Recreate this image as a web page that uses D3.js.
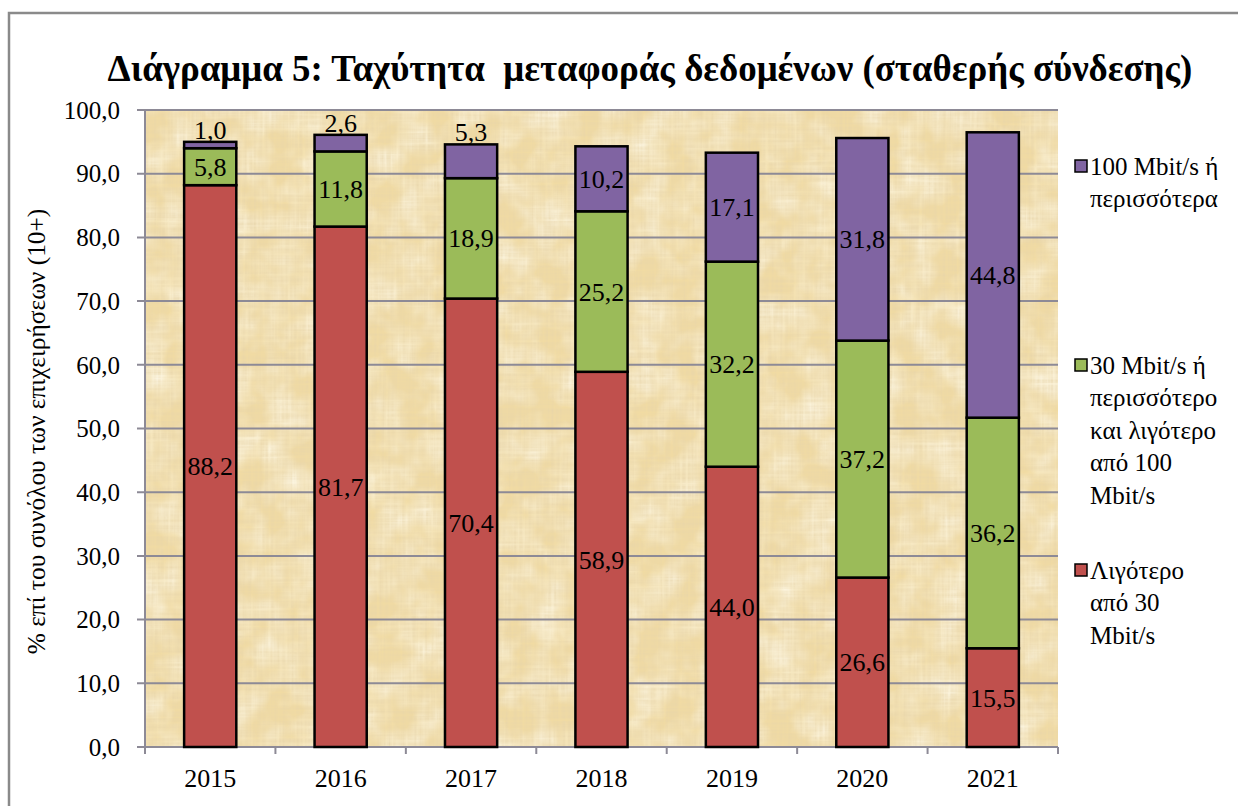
<!DOCTYPE html>
<html>
<head>
<meta charset="utf-8">
<script src="https://cdn.jsdelivr.net/npm/d3@7"></script>
<style>
  body { margin: 0; background: #fff; }
</style>
</head>
<body>
<svg id="chart" width="1238" height="806"></svg>
<script>
// data
var years = ["2015", "2016", "2017", "2018", "2019", "2020", "2021"];
var below30 = [88.2, 81.7, 70.4, 58.9, 44.0, 26.6, 15.5];
var from30to100 = [5.8, 11.8, 18.9, 25.2, 32.2, 37.2, 36.2];
var above100 = [1.0, 2.6, 5.3, 10.2, 17.1, 31.8, 44.8];
var yTicks = [0, 10, 20, 30, 40, 50, 60, 70, 80, 90, 100];

var seriesNames = [
  ["Λιγότερο", "από 30", "Mbit/s"],
  ["30 Mbit/s ή", "περισσότερο", "και λιγότερο", "από 100", "Mbit/s"],
  ["100 Mbit/s ή", "περισσότερα"]
];
var colors = ["#C0504D", "#9BBB59", "#8064A2"];

var serif = "'Liberation Serif', 'Times New Roman', serif";
var svg = d3.select("#chart").style("font-family", serif);

// outer frame
svg.append("rect")
    .attr("x", 9).attr("y", 13)
    .attr("width", 1240).attr("height", 810)
    .attr("fill", "#fff")
    .attr("stroke", "#8a8a8a").attr("stroke-width", 2.5);

var plotL = 145, plotR = 1058, plotT = 110, plotB = 747;

var x = d3.scaleBand().domain(years).range([plotL, plotR])
    .paddingInner(0.6).paddingOuter(0.3);
var y = d3.scaleLinear().domain([0, 100]).range([plotB, plotT]);

// papyrus-like texture
var defs = svg.append("defs");
var f = defs.append("filter").attr("id", "papyrus")
    .attr("x", 0).attr("y", 0).attr("width", 1).attr("height", 1);
f.append("feTurbulence").attr("type", "fractalNoise")
    .attr("baseFrequency", "0.015 0.35").attr("numOctaves", 2).attr("seed", 4).attr("result", "h");
f.append("feTurbulence").attr("type", "fractalNoise")
    .attr("baseFrequency", "0.35 0.015").attr("numOctaves", 2).attr("seed", 9).attr("result", "v");
f.append("feBlend").attr("in", "h").attr("in2", "v").attr("mode", "multiply").attr("result", "hv");
f.append("feColorMatrix").attr("in", "hv").attr("type", "matrix")
    .attr("values", "0 0 0 0 0.80  0 0 0 0 0.66  0 0 0 0 0.40  1.3 0 0 0 -0.25");
var f2 = defs.append("filter").attr("id", "blotch")
    .attr("x", 0).attr("y", 0).attr("width", 1).attr("height", 1);
f2.append("feTurbulence").attr("type", "fractalNoise")
    .attr("baseFrequency", "0.03").attr("numOctaves", 3).attr("seed", 2);
f2.append("feColorMatrix").attr("type", "matrix")
    .attr("values", "0 0 0 0 1  0 0 0 0 0.97  0 0 0 0 0.86  1.5 0 0 0 -0.5");

svg.append("rect").attr("x", plotL).attr("y", plotT)
    .attr("width", plotR - plotL).attr("height", plotB - plotT)
    .attr("fill", "#F1DBA3");
svg.append("rect").attr("x", plotL).attr("y", plotT)
    .attr("width", plotR - plotL).attr("height", plotB - plotT)
    .attr("filter", "url(#blotch)");
svg.append("rect").attr("x", plotL).attr("y", plotT)
    .attr("width", plotR - plotL).attr("height", plotB - plotT)
    .attr("filter", "url(#papyrus)");

// grid lines + y axis
var gridColor = "#8d8a96";
svg.append("g").selectAll("line").data(yTicks).join("line")
    .attr("x1", plotL - 8).attr("x2", plotR)
    .attr("y1", function(d) { return y(d); })
    .attr("y2", function(d) { return y(d); })
    .attr("stroke", gridColor).attr("stroke-width", 2);
svg.append("line")
    .attr("x1", plotL).attr("x2", plotL).attr("y1", plotT).attr("y2", plotB)
    .attr("stroke", gridColor).attr("stroke-width", 2);

var fmt = function(v) { return d3.format(".1f")(v).replace(".", ","); };

svg.append("g").selectAll("text").data(yTicks).join("text")
    .attr("x", 120)
    .attr("y", function(d) { return y(d); })
    .attr("dy", "0.35em")
    .attr("text-anchor", "end")
    .style("font-size", "25px")
    .text(fmt);

// x axis tick marks at category boundaries
var step = x.step();
svg.append("g").selectAll("line").data(d3.range(years.length + 1)).join("line")
    .attr("x1", function(i) { return plotL + i * step; })
    .attr("x2", function(i) { return plotL + i * step; })
    .attr("y1", plotB).attr("y2", plotB + 7)
    .attr("stroke", gridColor).attr("stroke-width", 2);

svg.append("g").selectAll("text").data(years).join("text")
    .attr("x", function(d) { return x(d) + x.bandwidth() / 2; })
    .attr("y", 787)
    .attr("text-anchor", "middle")
    .style("font-size", "26px")
    .text(function(d) { return d; });

// stacked bars
var table = years.map(function(yr, i) {
  return { year: yr, a: below30[i], b: from30to100[i], c: above100[i] };
});
var stack = d3.stack().keys(["a", "b", "c"]);
var layers = stack(table);

var g = svg.append("g");
layers.forEach(function(layer, li) {
  g.selectAll(null).data(layer).join("rect")
      .attr("x", function(d) { return x(d.data.year); })
      .attr("width", x.bandwidth())
      .attr("y", function(d) { return y(d[1]); })
      .attr("height", function(d) { return y(d[0]) - y(d[1]); })
      .attr("fill", colors[li])
      .attr("stroke", "#000").attr("stroke-width", 2.5);
});

// small top segments get their label just above the bar
layers.forEach(function(layer, li) {
  g.selectAll(null).data(layer).join("text")
      .attr("x", function(d) { return x(d.data.year) + x.bandwidth() / 2; })
      .attr("y", function(d) {
        var v = d[1] - d[0];
        if (v < 6 && li == 2) return y(d[1]) - 3;
        return (y(d[0]) + y(d[1])) / 2;
      })
      .attr("dy", function(d) { return (d[1] - d[0] < 6 && li == 2) ? "0" : "0.35em"; })
      .attr("text-anchor", "middle")
      .style("font-size", "26px")
      .text(function(d) { return fmt(d[1] - d[0]); });
});

// title, fitted to the width it has in the picture
var title = svg.append("text")
    .attr("x", 650).attr("y", 81)
    .attr("text-anchor", "middle")
    .attr("xml:space", "preserve")
    .style("font-size", "33px").style("font-weight", "bold")
    .text("Διάγραμμα 5: Ταχύτητα  μεταφοράς δεδομένων (σταθερής σύνδεσης)");
var tw = title.node().getComputedTextLength();
title.style("font-size", (33 * 1086 / tw).toFixed(1) + "px");

// y axis title
var ytitle = svg.append("text")
    .attr("transform", "translate(45," + ((plotT + plotB) / 2 + 3) + ") rotate(-90)")
    .attr("text-anchor", "middle")
    .style("font-size", "23px")
    .text("% επί του συνόλου των επιχειρήσεων (10+)");
var yw = ytitle.node().getComputedTextLength();
ytitle.style("font-size", (23 * 446 / yw).toFixed(1) + "px");

// legend (top to bottom: purple, green, red)
var legendTop = [166, 365, 570];
var lineH = 32.5;
[2, 1, 0].forEach(function(si, k) {
  var ly = legendTop[k];
  svg.append("rect")
      .attr("x", 1075).attr("y", ly - 6)
      .attr("width", 12).attr("height", 12)
      .attr("fill", colors[si]).attr("stroke", "#000").attr("stroke-width", 1.5);
  svg.append("g").selectAll("text").data(seriesNames[si]).join("text")
      .attr("x", 1090)
      .attr("y", function(d, i) { return ly + i * lineH; })
      .attr("dy", "0.35em")
      .style("font-size", "25px")
      .text(function(d) { return d; });
});
</script>
</body>
</html>
